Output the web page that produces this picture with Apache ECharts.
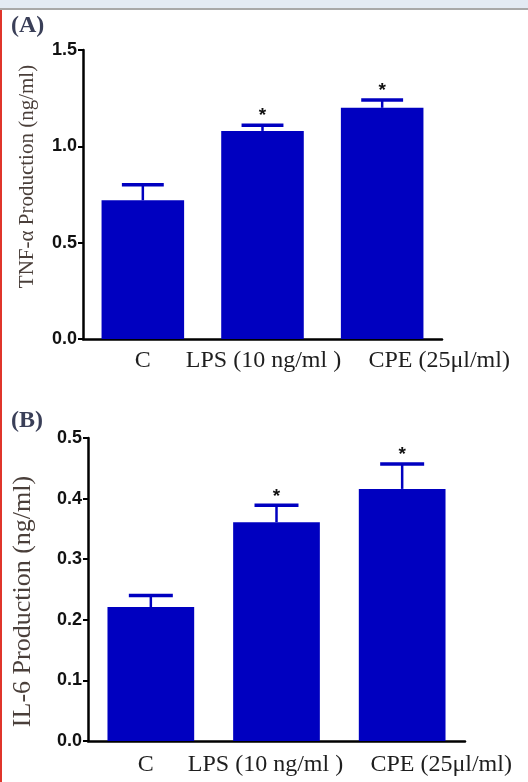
<!DOCTYPE html>
<html>
<head>
<meta charset="utf-8">
<script src="https://cdn.jsdelivr.net/npm/echarts@6/dist/echarts.min.js"></script>
<style>
html,body{margin:0;padding:0;background:#fff;}
#chart{width:528px;height:782px;}
</style>
</head>
<body>
<div id="chart"></div>
<script>
// ---- data ----
const categories = ['C', 'LPS (10 ng/ml )', 'CPE (25μl/ml)'];
const tnfMeans = [0.72, 1.08, 1.20];
const tnfErrors = [0.08, 0.03, 0.04];
const tnfStars = ['', '*', '*'];
const il6Means = [0.221, 0.361, 0.416];
const il6Errors = [0.019, 0.028, 0.041];
const il6Stars = ['', '*', '*'];
const tnfAxis = { min: 0, max: 1.5, interval: 0.5 };
const il6Axis = { min: 0, max: 0.5, interval: 0.1 };
const panelLabels = ['(A)', '(B)'];
const tnfTitle = 'TNF-α Production (ng/ml)';
const il6Title = 'IL-6 Production (ng/ml)';

// ---- styles ----
const BAR = '#0000c0';
const SERIF = '"Liberation Serif","Times New Roman",serif';
const SANS = '"Liberation Sans",Arial,sans-serif';

function errData(means, errs) { return means.map((m, i) => [i, m, errs[i]]); }

function makeErrRender(stars) {
  return function (params, api) {
    const x = api.value(0), mean = api.value(1), err = api.value(2);
    const base = api.coord([x, mean]);
    const top = api.coord([x, mean + err]);
    const band = api.size([1, 0])[0];
    const half = band * 0.175;
    const children = [
      { type: 'line', shape: { x1: base[0], y1: base[1], x2: top[0], y2: top[1] },
        style: { stroke: BAR, lineWidth: 2.5 } },
      { type: 'line', shape: { x1: top[0] - half, y1: top[1], x2: top[0] + half, y2: top[1] },
        style: { stroke: BAR, lineWidth: 3.5 } }
    ];
    const s = stars[params.dataIndex];
    if (s) {
      children.push({ type: 'text', x: top[0], y: top[1] - 9,
        style: { text: s, fill: '#111', font: 'bold 19px ' + SANS, align: 'center', verticalAlign: 'middle' } });
    }
    return { type: 'group', children };
  };
}

function xLabelRich(shifts) {
  const rich = {};
  shifts.forEach((d, i) => {
    rich['l' + i] = { fontFamily: SERIF, fontSize: 24, color: '#1e1e1e',
      padding: d >= 0 ? [0, 0, 0, 2 * d] : [0, -2 * d, 0, 0] };
  });
  return rich;
}

const chart = echarts.init(document.getElementById('chart'), null, { renderer: 'canvas' });

function xAxisCfg(gridIndex, shifts, margin) {
  return {
    type: 'category', gridIndex, data: categories,
    axisLine: { lineStyle: { color: '#000', width: 2.5 } },
    axisTick: { alignWithLabel: true, length: 6, lineStyle: { color: '#000', width: 2 } },
    axisLabel: { interval: 0, hideOverlap: false, margin,
      formatter: (v, i) => '{l' + i + '|' + v + '}', rich: xLabelRich(shifts) },
    splitLine: { show: false }
  };
}
function yAxisCfg(gridIndex, ax, name, nameSize, nameGap, namePad, decimals) {
  return {
    type: 'value', gridIndex, min: ax.min, max: ax.max, interval: ax.interval,
    name, nameLocation: 'middle', nameRotate: 90, nameGap,
    nameTextStyle: { fontFamily: SERIF, fontSize: nameSize, color: '#4a3f3a', padding: namePad },
    axisLine: { show: true, lineStyle: { color: '#000', width: 2.5 } },
    axisTick: { show: true, length: 5, lineStyle: { color: '#000', width: 2 } },
    axisLabel: { fontFamily: SANS, fontWeight: 'bold', fontSize: 18, color: '#111', margin: 6,
      formatter: v => v.toFixed(decimals) },
    splitLine: { show: false }
  };
}

chart.setOption({
  animation: false,
  backgroundColor: '#ffffff',
  grid: [
    { left: 83, right: 86, top: 50, bottom: 443, containLabel: false, outerBoundsMode: 'none' },
    { left: 88, right: 63, top: 438, bottom: 41, containLabel: false, outerBoundsMode: 'none' }
  ],
  xAxis: [ xAxisCfg(0, [0, 1, 57], 10), xAxisCfg(1, [-5, -11, 39], 12) ],
  yAxis: [
    yAxisCfg(0, tnfAxis, tnfTitle, 21, 45, [0, 0, 0, 36], 1),
    yAxisCfg(1, il6Axis, il6Title, 26, 52, [0, 24, 0, 0], 1)
  ],
  graphic: [
    { type: 'rect', shape: { x: 0, y: 0, width: 528, height: 8 }, style: { fill: '#e3eaf3' }, silent: true },
    { type: 'rect', shape: { x: 0, y: 8, width: 528, height: 2 }, style: { fill: '#a8a8a8' }, silent: true },
    { type: 'rect', shape: { x: 0, y: 10, width: 2, height: 772 }, style: { fill: '#e0352b' }, silent: true },
    { type: 'text', x: 11, y: 26, style: { text: panelLabels[0], font: 'bold 24px ' + SERIF, fill: '#3a3f58', verticalAlign: 'middle' } },
    { type: 'text', x: 11, y: 421, style: { text: panelLabels[1], font: 'bold 24px ' + SERIF, fill: '#3a3f58', verticalAlign: 'middle' } }
  ],
  series: [
    { type: 'bar', xAxisIndex: 0, yAxisIndex: 0, data: tnfMeans, barCategoryGap: '31%',
      itemStyle: { color: BAR } },
    { type: 'custom', xAxisIndex: 0, yAxisIndex: 0, data: errData(tnfMeans, tnfErrors),
      encode: { x: 0, y: 1 }, renderItem: makeErrRender(tnfStars), z: 3 },
    { type: 'bar', xAxisIndex: 1, yAxisIndex: 1, data: il6Means, barCategoryGap: '31%',
      itemStyle: { color: BAR } },
    { type: 'custom', xAxisIndex: 1, yAxisIndex: 1, data: errData(il6Means, il6Errors),
      encode: { x: 0, y: 1 }, renderItem: makeErrRender(il6Stars), z: 3 }
  ]
});
</script>
</body>
</html>
